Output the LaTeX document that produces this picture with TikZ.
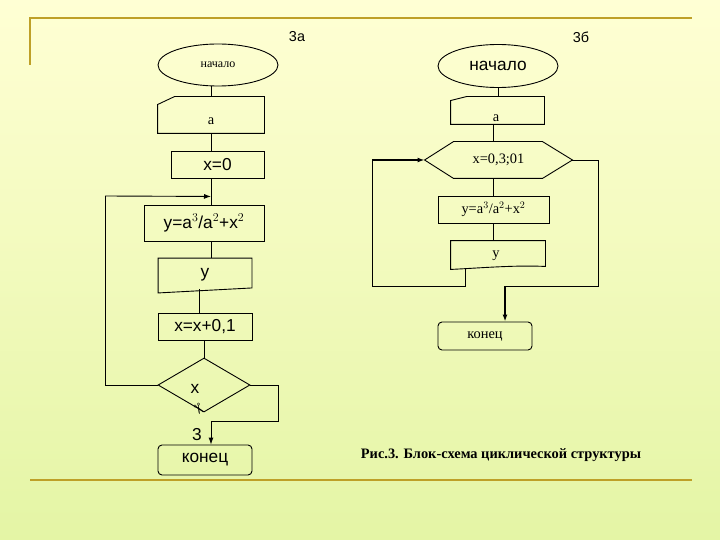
\documentclass[tikz,border=0pt]{standalone}
\usepackage{fontspec}
\setmainfont{Liberation Serif}
\newfontfamily\arial{Liberation Sans}
\newfontfamily\dejavu{DejaVu Sans}
\usetikzlibrary{shapes.geometric,arrows.meta}
\definecolor{bgtop}{RGB}{255,255,212}
\definecolor{bgbot}{RGB}{228,245,165}
\definecolor{gold}{RGB}{190,160,40}
\tikzset{every picture/.style={line width=0.9pt}}
\tikzset{
  blk/.style={draw, rectangle, inner sep=0pt, font=\arial\LARGE},
  sblk/.style={draw, rectangle, inner sep=0pt, font=\Large},
  ghost/.style={draw=none, rectangle, inner sep=0pt},
  lnk/.style={-{Latex[length=7pt,width=5pt]}},
}
\begin{document}
\begin{tikzpicture}[x=1pt,y=1pt,yscale=-1,xscale=1]
\useasboundingbox (0,0) rectangle (720,540);
\shade[top color=bgtop, bottom color=bgbot] (0,0) rectangle (720,540);
% frame lines
\draw[gold, line width=2pt] (30,65) -- (30,18) -- (692,18);
\draw[gold, line width=1.2pt] (30,480) -- (692,480);

% ---- 3a ----
\node[font=\arial\Large] at (297,37) {3а};
\node[draw, ellipse, minimum width=120, minimum height=42, inner sep=0pt, font=\large] (st1) at (218,65) {начало};
\node[ghost, minimum width=106, minimum height=36] (in1) at (211,115) {};
\draw (in1.south west) -- (in1.south east) -- (in1.north east) -- ([xshift=17]in1.north west) -- ([yshift=8]in1.north west) -- cycle;
\node[font=\Large] at (211,121) {а};
\node[blk, minimum width=93, minimum height=27] (x0) at (217.5,164.5) {x=0};
\node[blk, minimum width=120, minimum height=36] (yf1) at (204,223) {y=a$^3$/a$^2$+x$^2$};
\node[ghost, minimum width=93, minimum height=33] (out1) at (205,275) {};
\draw (out1.north west) -- (out1.north east) -- ([yshift=-4]out1.south east) -- ([yshift=1]out1.south west) -- cycle;
\node[font=\arial\LARGE] at (205,275) {y};
\node[blk, minimum width=94, minimum height=27] (inc) at (205,326.5) {x=x+0,1};
\node[draw, diamond, minimum width=92, minimum height=54, inner sep=0pt] (cnd) at (204,385) {};
\node[font=\arial\LARGE] at (195,389) {x};
\node[font=\dejavu\Large, rotate=-60] at (198,410) {✂};
\node[font=\arial\LARGE] at (197,435) {3};
\node[blk, rounded corners=4pt, minimum width=94, minimum height=30] (end1) at (205,460) {конец};
\coordinate (lp1) at (x0.south -| in1.south);
\coordinate (lp1) at ([yshift=18]lp1);
\coordinate (lp1L) at (105,196);
\draw (st1.south -| in1.north) -- (in1.north);
\draw (in1.south) -- (in1.south |- x0.north);
\draw (x0.south -| in1.south) -- (yf1.north -| in1.south);
\draw (yf1.south -| in1.south) -- (out1.north -| in1.south);
\draw ([yshift=-3]out1.south -| 199,0) -- (inc.north -| 199,0);
\draw (inc.south -| cnd.north) -- (cnd.north);
\draw (cnd.west) -- (105,385) -- (lp1L);
\draw[lnk] (lp1L) -- (lp1);
\draw (cnd.east) -- (278,385) -- (278,421) -- (211,421);
\draw[lnk] (211,421) -- (end1.north -| 211,0);

% ---- 3b ----
\node[font=\arial\Large] at (581,37) {3б};
\node[draw, ellipse, minimum width=120, minimum height=43, inner sep=0pt, font=\arial\LARGE] (st2) at (498,66) {начало};
\node[ghost, minimum width=93, minimum height=27] (in2) at (497.5,110.5) {};
\draw (in2.south west) -- (in2.south east) -- (in2.north east) -- ([xshift=16]in2.north west) -- ([yshift=4]in2.north west) -- cycle;
\node[font=\Large] at (496,118) {а};
\node[ghost, minimum width=147, minimum height=36, font=\Large] (loop) at (498.5,160) {x=0,3;01};
\draw (loop.west) -- ([xshift=29]loop.north west) -- ([xshift=-30]loop.north east) -- (loop.east) -- ([xshift=-30]loop.south east) -- ([xshift=29]loop.south west) -- cycle;
\node[sblk, minimum width=111, minimum height=27] (yf2) at (493.5,209.5) {y=a$^3$/a$^2$+x$^2$};
\node[ghost, minimum width=94, minimum height=26] (out2) at (498,254) {};
\draw (out2.north west) -- (out2.north east) -- ([yshift=-1]out2.south east) .. controls (515,265) and (480,268) .. ([yshift=2]out2.south west) -- cycle;
\node[font=\Large] at (496,256) {у};
\node[sblk, rounded corners=4pt, minimum width=94, minimum height=28] (end2) at (485,336) {конец};
\coordinate (lp2L) at (372,160);
\draw (st2.south) -- (in2.north -| st2.south);
\draw (in2.south -| yf2.north) -- (loop.north -| yf2.north);
\draw (loop.south -| yf2.north) -- (yf2.north);
\draw (yf2.south) -- (out2.north -| yf2.south);
\draw (465,268) -- (465,286) -- (372,286) -- (lp2L);
\draw[lnk, line width=1.4pt] (lp2L) -- (loop.west);
\draw (loop.east) -- (598,160) -- (598,286) -- (505,286);
\draw[lnk, line width=1.4pt] (505,286) -- (end2.north -| 505,0);

\node[font=\bfseries\Large] at (501,455) {Рис.3. Блок-схема циклической структуры};
\end{tikzpicture}
\end{document}
